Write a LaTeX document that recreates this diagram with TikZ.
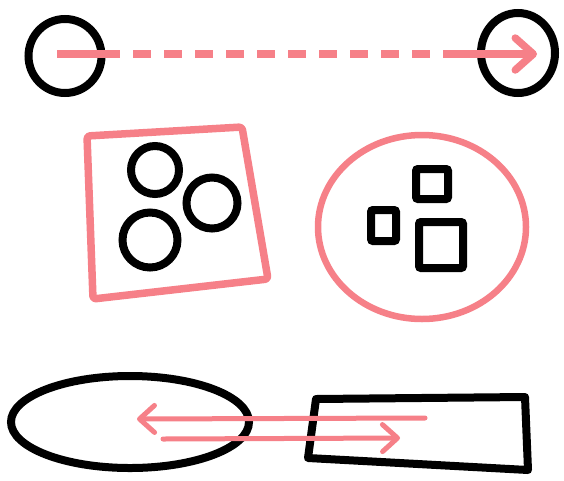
\documentclass[tikz,border=0pt]{standalone}
\usetikzlibrary{arrows.meta,shapes.geometric}
\definecolor{pinkline}{RGB}{246,128,136}
\begin{document}
\begin{tikzpicture}[x=1pt,y=-1pt,
  ink/.style={draw=black,line width=8pt,inner sep=0pt},
  pinkink/.style={draw=pinkline,line width=7.5pt,inner sep=0pt},
  oval/.style={ellipse},
  ring/.style={circle},
  sq/.style={rectangle,rounded corners=2pt},
  bigbarb/.style={-{Straight Barb[length=18pt,width=32pt,round]}},
  smallbarb/.style={-{Straight Barb[length=15pt,width=27pt,round]}}]
\useasboundingbox (0,0) rectangle (564,480);
\fill[white] (0,0) rectangle (564,480);

% top row
\node[ink,oval,minimum width=73pt,minimum height=74pt] (lc) at (65,56) {};
\node[ink,oval,minimum width=74pt,minimum height=80pt] (rc) at (518,53) {};

% pink quadrilateral with circles
\draw[pinkink,rounded corners=3pt,line join=round] (87,136) -- (242,127) -- (268,279) -- (93,299) -- cycle;
\node[ink,ring,minimum size=48pt] (c1) at (155,170) {};
\node[ink,ring,minimum size=51pt] (c2) at (212,203) {};
\node[ink,ring,minimum size=55pt] (c3) at (150,240) {};

% pink ellipse with squares
\node[pinkink,line width=6.5pt,oval,minimum width=208pt,minimum height=184pt] (pe) at (422,227) {};
\node[ink,sq,minimum width=32pt,minimum height=30pt] (s1) at (432,184) {};
\node[ink,sq,minimum width=25pt,minimum height=31pt] (s2) at (383.5,225.5) {};
\node[ink,sq,minimum width=44pt,minimum height=46pt] (s3) at (441,245) {};

% bottom row
\node[ink,oval,minimum width=238pt,minimum height=92pt] (be) at (130,422) {};
\draw[ink,line join=round] (316,399) -- (525,397) -- (528,470) -- (308,458) -- cycle;

% pink connectors
\coordinate (ls) at (57,54);
\coordinate (le) at (537,54);
\draw[pinkink,line cap=butt,bigbarb,
  dash pattern=on 63pt off 13pt on 18pt off 13pt on 18pt off 13pt on 18pt off 13pt on 18pt off 13pt on 18pt off 13pt on 18pt off 13pt on 18pt off 13pt on 18pt off 13pt on 18pt off 13pt on 18pt off 13pt on 200pt off 1pt]
  (ls) -- (le);

\coordinate (a1s) at (425,418);
\coordinate (a1e) at (137,419);
\coordinate (a2s) at (163,439);
\coordinate (a2e) at (400,438);
\draw[pinkink,line width=5pt,line cap=round,smallbarb] (a1s) -- (a1e);
\draw[pinkink,line width=5pt,line cap=round,smallbarb] (a2s) -- (a2e);
\end{tikzpicture}
\end{document}
